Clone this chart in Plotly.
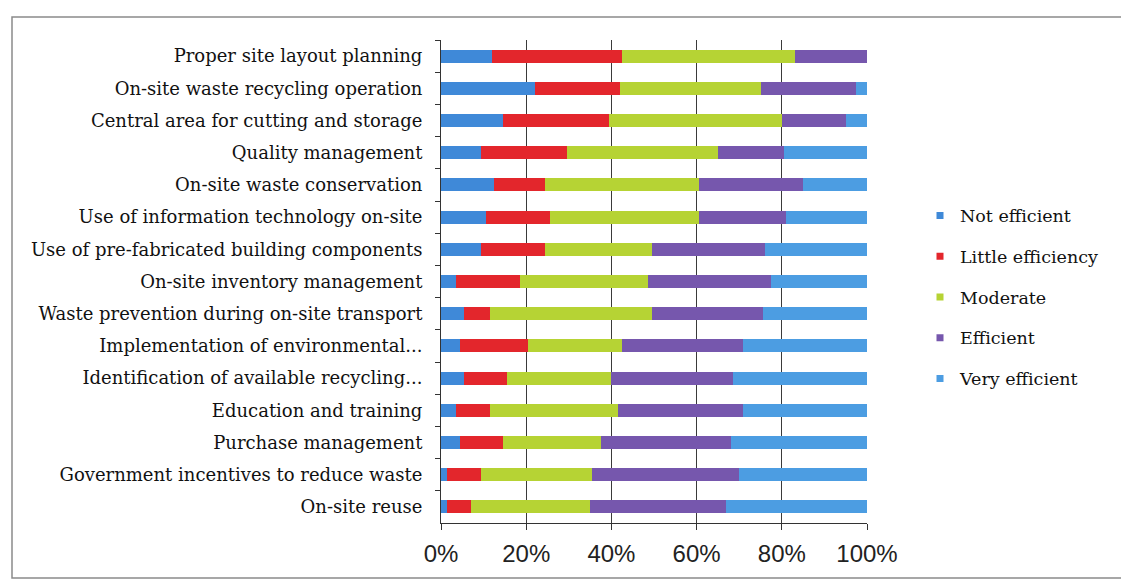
import plotly.graph_objects as go

# Waste-minimisation measures, listed top to bottom
measures = [
    "Proper site layout planning",
    "On-site waste recycling operation",
    "Central area for cutting and storage",
    "Quality management",
    "On-site waste conservation",
    "Use of information technology on-site",
    "Use of pre-fabricated building components",
    "On-site inventory management",
    "Waste prevention during on-site transport",
    "Implementation of environmental...",
    "Identification of available recycling...",
    "Education and training",
    "Purchase management",
    "Government incentives to reduce waste",
    "On-site reuse",
]

# Share of responses (%) for each rating
not_efficient = [12, 22, 14.5, 9.5, 12.5, 10.5, 9.5, 3.5, 5.5, 4.5, 5.5, 3.5, 4.5, 1.5, 1.5]
little_efficiency = [30.5, 20, 25, 20, 12, 15, 15, 15, 6, 16, 10, 8, 10, 8, 5.5]
moderate = [40.5, 33, 40.5, 35.5, 36, 35, 25, 30, 38, 22, 24.5, 30, 23, 26, 28]
efficient = [17, 22.5, 15, 15.5, 24.5, 20.5, 26.5, 29, 26, 28.5, 28.5, 29.5, 30.5, 34.5, 32]
very_efficient = [0, 2.5, 5, 19.5, 15, 19, 24, 22.5, 24.5, 29, 31.5, 29, 32, 30, 33]

series = [
    ("Not efficient", not_efficient, "#3f89d8"),
    ("Little efficiency", little_efficiency, "#e3262c"),
    ("Moderate", moderate, "#b6d334"),
    ("Efficient", efficient, "#7657ad"),
    ("Very efficient", very_efficient, "#4c9de2"),
]

tick_vals = [0, 20, 40, 60, 80, 100]
tick_text = ["0%", "20%", "40%", "60%", "80%", "100%"]

fig = go.Figure()
for name, vals, color in series:
    fig.add_trace(go.Bar(
        y=measures, x=vals, name=name, orientation="h",
        marker=dict(color=color, line=dict(width=0)),
        showlegend=False,
    ))

# Legend keys: small square swatches, one per rating
for name, vals, color in series:
    fig.add_trace(go.Scatter(
        x=[None], y=[None], mode="markers", name=name,
        marker=dict(symbol="square", size=7, color=color),
        legendgroup=name, showlegend=True,
    ))

W, H = 1121, 588
L, R, T, B = 441, 1121 - 867, 40, 588 - 523
pw, ph = W - L - R, H - T - B

def px_x(x):
    return (x - L) / pw

def px_y(y):
    return (H - B - y) / ph

fig.update_layout(
    width=W, height=H,
    margin=dict(l=L, r=R, t=T, b=B),
    barmode="stack", bargap=0.6,
    plot_bgcolor="white", paper_bgcolor="white",
    font=dict(family="DejaVu Serif", size=17, color="#111"),
    xaxis=dict(
        range=[0, 100], tickvals=tick_vals, ticktext=tick_text,
        showgrid=True, gridcolor="#3a3a3a", gridwidth=1,
        showline=True, linecolor="#333", linewidth=1,
        ticks="outside", ticklen=6, tickcolor="#333",
        tickfont=dict(family="Liberation Sans", size=24, color="#222"),
        ticklabelstandoff=3, zeroline=False, fixedrange=True,
    ),
    yaxis=dict(
        autorange="reversed", type="category",
        showline=True, linecolor="#333", linewidth=1,
        ticks="outside", ticklen=5, tickcolor="#333", tickson="boundaries",
        tickfont=dict(family="DejaVu Serif", size=18, color="#111"),
        ticklabelstandoff=14, showgrid=False, fixedrange=True,
    ),
    legend=dict(
        x=px_x(920), y=px_y(297), xanchor="left", yanchor="middle",
        traceorder="grouped", tracegroupgap=15,
        font=dict(family="DejaVu Serif", size=17.5, color="#111"),
        itemwidth=30, bgcolor="rgba(0,0,0,0)",
    ),
    shapes=[dict(
        type="rect", xref="paper", yref="paper",
        x0=px_x(12), x1=px_x(1130), y0=px_y(578), y1=px_y(17),
        line=dict(color="#8a8a8a", width=1.5), layer="below",
    )],
)

fig.write_html("out.html")
